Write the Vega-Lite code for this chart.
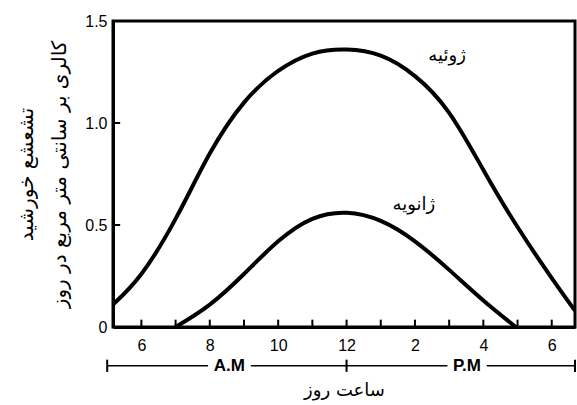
{
  "$schema": "https://vega.github.io/schema/vega-lite/v6.json",
  "width": 462,
  "height": 306,
  "autosize": {"type": "none"},
  "padding": {"left": 113, "top": 21, "right": 2, "bottom": 78},
  "background": "white",
  "config": {
    "view": {"stroke": "black", "strokeWidth": 3},
    "font": "Liberation Sans",
    "axis": {
      "domainColor": "black",
      "domainWidth": 3,
      "ticks": false,
      "grid": false,
      "labelColor": "black",
      "labelFont": "Liberation Sans",
      "labelFontSize": 16,
      "titleColor": "black",
      "titleFont": "DejaVu Sans",
      "titleFontWeight": "normal",
      "titleFontSize": 20
    }
  },
  "datasets": {
    "curves": [
      {"hour": 5.17, "value": 0.11, "month": "July"},
      {"hour": 6, "value": 0.26, "month": "July"},
      {"hour": 7, "value": 0.53, "month": "July"},
      {"hour": 8, "value": 0.85, "month": "July"},
      {"hour": 9, "value": 1.1, "month": "July"},
      {"hour": 10, "value": 1.255, "month": "July"},
      {"hour": 11, "value": 1.34, "month": "July"},
      {"hour": 12, "value": 1.36, "month": "July"},
      {"hour": 13, "value": 1.33, "month": "July"},
      {"hour": 14, "value": 1.23, "month": "July"},
      {"hour": 15, "value": 1.05, "month": "July"},
      {"hour": 16, "value": 0.77, "month": "July"},
      {"hour": 17, "value": 0.49, "month": "July"},
      {"hour": 18, "value": 0.24, "month": "July"},
      {"hour": 18.68, "value": 0.08, "month": "July"},
      {"hour": 7.0, "value": 0.0, "month": "January"},
      {"hour": 8, "value": 0.11, "month": "January"},
      {"hour": 9, "value": 0.26, "month": "January"},
      {"hour": 10, "value": 0.42, "month": "January"},
      {"hour": 11, "value": 0.53, "month": "January"},
      {"hour": 12, "value": 0.56, "month": "January"},
      {"hour": 13, "value": 0.52, "month": "January"},
      {"hour": 14, "value": 0.42, "month": "January"},
      {"hour": 15, "value": 0.28, "month": "January"},
      {"hour": 16, "value": 0.13, "month": "January"},
      {"hour": 16.95, "value": 0.0, "month": "January"}
    ],
    "curveLabels": [
      {"hour": 14.94, "value": 1.33, "name": "ژوئیه"},
      {"hour": 13.97, "value": 0.6, "name": "ژانویه"}
    ],
    "hourTicks": [
      {"hour": 6}, {"hour": 7}, {"hour": 8}, {"hour": 9}, {"hour": 10},
      {"hour": 11}, {"hour": 12}, {"hour": 13}, {"hour": 14}, {"hour": 15},
      {"hour": 16}, {"hour": 17}, {"hour": 18}
    ],
    "valueTicks": [
      {"value": 0.5}, {"value": 1.0}
    ],
    "ampmLine": [
      {"start": 5.0, "end": 7.95},
      {"start": 9.2, "end": 14.95},
      {"start": 16.1, "end": 18.68}
    ],
    "ampmMarks": [
      {"hour": 5.0},
      {"hour": 12},
      {"hour": 18.68}
    ],
    "ampmText": [
      {"hour": 8.57, "text": "A.M"},
      {"hour": 15.52, "text": "P.M"}
    ]
  },
  "layer": [
    {
      "data": {"name": "curves"},
      "mark": {"type": "line", "color": "black", "strokeWidth": 4, "interpolate": "natural", "clip": true},
      "encoding": {
        "x": {
          "field": "hour",
          "type": "quantitative",
          "scale": {"domain": [5.17, 18.68], "nice": false, "zero": false},
          "axis": {
            "values": [6, 7, 8, 9, 10, 11, 12, 13, 14, 15, 16, 17, 18],
            "labelExpr": "datum.value % 2 == 0 ? (datum.value > 12 ? datum.value - 12 : datum.value) + '' : ''",
            "labelPadding": 10,
            "labelFlush": false,
            "labelOverlap": false,
            "title": "ساعت روز",
            "titleFontSize": 18,
            "titlePadding": 28
          }
        },
        "y": {
          "field": "value",
          "type": "quantitative",
          "scale": {"domain": [0, 1.5], "nice": false},
          "axis": {
            "values": [0, 0.5, 1, 1.5],
            "labelExpr": "datum.value == 0 ? '0' : format(datum.value, '.1f')",
            "labelPadding": 6,
            "labelFlush": false,
            "title": ["تشعشع خورشید", "کالری بر سانتی متر مربع در روز"],
            "titlePadding": 15,
            "titleLineHeight": 33
          }
        },
        "detail": {"field": "month"}
      }
    },
    {
      "data": {"name": "hourTicks"},
      "mark": {"type": "rule", "color": "black", "strokeWidth": 2},
      "encoding": {
        "x": {"field": "hour", "type": "quantitative"},
        "y": {"datum": 0},
        "y2": {"datum": 0.036}
      }
    },
    {
      "data": {"name": "valueTicks"},
      "mark": {"type": "rule", "color": "black", "strokeWidth": 2},
      "encoding": {
        "y": {"field": "value", "type": "quantitative"},
        "x": {"datum": 5.17},
        "x2": {"datum": 5.38}
      }
    },
    {
      "data": {"name": "curveLabels"},
      "mark": {"type": "text", "font": "DejaVu Sans", "fontSize": 18, "color": "black"},
      "encoding": {
        "x": {"field": "hour", "type": "quantitative"},
        "y": {"field": "value", "type": "quantitative"},
        "text": {"field": "name"}
      }
    },
    {
      "data": {"name": "ampmLine"},
      "mark": {"type": "rule", "color": "black", "strokeWidth": 1.5, "clip": false},
      "encoding": {
        "x": {"field": "start", "type": "quantitative"},
        "x2": {"field": "end"},
        "y": {"datum": -0.19}
      }
    },
    {
      "data": {"name": "ampmMarks"},
      "mark": {"type": "rule", "color": "black", "strokeWidth": 2, "clip": false},
      "encoding": {
        "x": {"field": "hour", "type": "quantitative"},
        "y": {"datum": -0.16},
        "y2": {"datum": -0.22}
      }
    },
    {
      "data": {"name": "ampmText"},
      "mark": {"type": "text", "font": "Liberation Sans", "fontSize": 17, "fontWeight": "bold", "color": "black", "clip": false},
      "encoding": {
        "x": {"field": "hour", "type": "quantitative"},
        "y": {"datum": -0.19},
        "text": {"field": "text"}
      }
    }
  ]
}
